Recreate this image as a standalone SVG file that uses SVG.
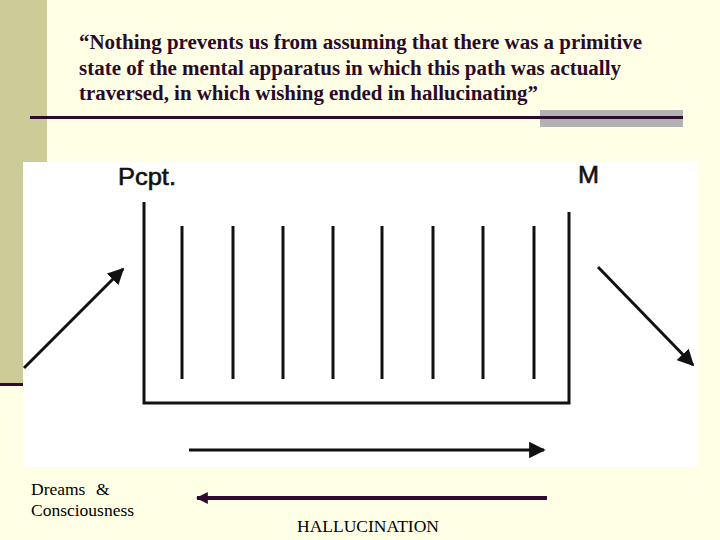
<svg xmlns="http://www.w3.org/2000/svg" width="720" height="540" viewBox="0 0 720 540">
<defs>
<style>
.quote{font-family:"Liberation Serif","Times New Roman",serif;font-weight:bold;font-size:20px;fill:#2a0a2a}
.lbl{font-family:"Liberation Sans",Arial,sans-serif;font-size:24px;fill:#111;stroke:#111;stroke-width:0.6}
.cap{font-family:"Liberation Serif","Times New Roman",serif;font-size:17.5px;fill:#000}
.ln{stroke:#111;stroke-width:3;fill:none}
.thin{stroke:#111;stroke-width:3;fill:none}
</style>
<marker id="ah" viewBox="0 0 10 10" refX="9" refY="5" markerWidth="5.5" markerHeight="5.5" orient="auto" markerUnits="strokeWidth">
<path d="M0,0 L10,5 L0,10 Z" fill="#111"/>
</marker>
<marker id="ahp" viewBox="0 0 10 10" refX="9" refY="5" markerWidth="3" markerHeight="3" orient="auto" markerUnits="strokeWidth">
<path d="M0,0 L10,5 L0,10 Z" fill="#2e0a2e"/>
</marker>
</defs>
<rect x="0" y="0" width="720" height="540" fill="#ffffe6"/>
<rect x="0" y="0" width="47" height="383" fill="#cccc99"/>
<rect x="0" y="383" width="47" height="3" fill="#2e0a2e"/>
<rect x="540" y="110" width="143" height="17" fill="#b2b2b2"/>
<rect x="30" y="116" width="653" height="3" fill="#2e0a2e"/>
<g id="quote">
<text class="quote" x="79" y="49" textLength="563" lengthAdjust="spacingAndGlyphs">“Nothing prevents us from assuming that there was a primitive</text>
<text class="quote" x="79" y="75" textLength="542" lengthAdjust="spacingAndGlyphs">state of the mental apparatus in which this path was actually</text>
<text class="quote" x="79" y="100" textLength="459" lengthAdjust="spacingAndGlyphs">traversed, in which wishing ended in hallucinating”</text>
</g>
<rect x="23" y="162" width="675" height="305" fill="#ffffff"/>
<g id="apparatus">
<path class="ln" d="M144,202 V403 H569 V212"/>
<line class="ln" x1="182" y1="226" x2="182" y2="379"/>
<line class="ln" x1="233" y1="226" x2="233" y2="379"/>
<line class="ln" x1="283" y1="226" x2="283" y2="379"/>
<line class="ln" x1="333" y1="226" x2="333" y2="379"/>
<line class="ln" x1="382" y1="226" x2="382" y2="379"/>
<line class="ln" x1="433" y1="226" x2="433" y2="379"/>
<line class="ln" x1="483" y1="226" x2="483" y2="379"/>
<line class="ln" x1="534" y1="226" x2="534" y2="379"/>
</g>
<g id="pcpt"><text class="lbl" x="118" y="185" textLength="58" lengthAdjust="spacingAndGlyphs">Pcpt.</text></g>
<g id="m"><text class="lbl" x="578" y="183" textLength="21" lengthAdjust="spacingAndGlyphs">M</text></g>
<g id="dreams">
<text class="cap" x="31" y="495">Dreams</text>
<text class="cap" x="96" y="495">&amp;</text>
<text class="cap" x="31" y="516">Consciousness</text>
</g>
<g id="hallucination"><text class="cap" x="297" y="532">HALLUCINATION</text></g>
<g id="connectors">
<line class="thin" x1="24" y1="368" x2="123" y2="269" marker-end="url(#ah)"/>
<line class="thin" x1="598" y1="267" x2="693" y2="365" marker-end="url(#ah)"/>
<line class="thin" x1="189" y1="450" x2="544" y2="450" marker-end="url(#ah)"/>
<line x1="547" y1="498" x2="197" y2="498" stroke="#2e0a2e" stroke-width="4" marker-end="url(#ahp)"/>
</g>
</svg>
